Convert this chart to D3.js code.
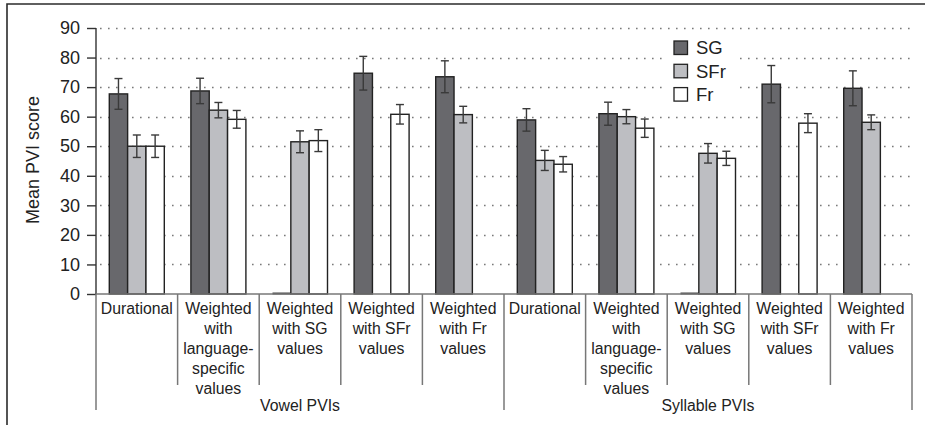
<!DOCTYPE html>
<html>
<head>
<meta charset="utf-8">
<script src="https://cdn.jsdelivr.net/npm/d3@7"></script>
<style>
  html, body { margin: 0; padding: 0; background: #fff; }
  svg { display: block; font-family: "Liberation Sans", Arial, Helvetica, sans-serif; }
</style>
</head>
<body>
<svg id="chart" width="925" height="425"></svg>
<script>
// PVI measures (one entry per category), split into vowel and syllable groups
const categoryLabels = [
  ["Durational"],
  ["Weighted", "with", "language-", "specific", "values"],
  ["Weighted", "with SG", "values"],
  ["Weighted", "with SFr", "values"],
  ["Weighted", "with Fr", "values"],
  ["Durational"],
  ["Weighted", "with", "language-", "specific", "values"],
  ["Weighted", "with SG", "values"],
  ["Weighted", "with SFr", "values"],
  ["Weighted", "with Fr", "values"]
];
const groupLabels = ["Vowel PVIs", "Syllable PVIs"];
const groupSize = 5;
const seriesNames = ["SG", "SFr", "Fr"];

// Mean PVI scores per speaker group
const sgValues  = [67.7, 68.7, 0, 74.7, 73.5, 58.9, 61.0, 0, 71.0, 69.6];
const sfrValues = [50.0, 62.2, 51.5, 0, 60.7, 45.2, 60.0, 47.6, 0, 58.1];
const frValues  = [50.0, 59.1, 51.9, 60.8, 0, 43.9, 56.1, 45.9, 57.8, 0];

// Half-length of the error bars
const sgErrors  = [5.2, 4.3, 0, 5.7, 5.4, 3.8, 3.9, 0, 6.3, 5.9];
const sfrErrors = [3.8, 2.6, 3.7, 0, 2.8, 3.4, 2.4, 3.3, 0, 2.5];
const frErrors  = [3.8, 3.0, 3.7, 3.3, 0, 2.6, 3.1, 2.4, 3.2, 0];

const yTicks = [0, 10, 20, 30, 40, 50, 60, 70, 80, 90];
const yLabel = "Mean PVI score";

const seriesValues = [sgValues, sfrValues, frValues];
const seriesErrors = [sgErrors, sfrErrors, frErrors];
const seriesFill = ["#68686c", "#bdbec2", "#ffffff"];

const svg = d3.select("#chart");

const plotLeft = 96, plotRight = 912, plotTop = 28, plotBottom = 294;

const x = d3.scaleBand()
  .domain(d3.range(categoryLabels.length))
  .range([plotLeft, plotRight])
  .paddingInner(0).paddingOuter(0);

const xs = d3.scaleBand()
  .domain(seriesNames)
  .range([13.3, x.bandwidth() - 13.3])
  .padding(0);

const y = d3.scaleLinear().domain([0, 90]).range([plotBottom, plotTop]);

// outer frame (top and left edges)
svg.append("path")
  .attr("d", `M7,425 L7,4 L925,4`)
  .attr("fill", "none")
  .attr("stroke", "#2b2b2b")
  .attr("stroke-width", 1.6);

// dotted gridlines
svg.append("g")
  .selectAll("line")
  .data(yTicks.filter(d => d > 0))
  .join("line")
  .attr("x1", plotLeft + 4)
  .attr("x2", plotRight)
  .attr("y1", d => Math.round(y(d)) + 0.5)
  .attr("y2", d => Math.round(y(d)) + 0.5)
  .attr("stroke", "#7a7a7a")
  .attr("stroke-width", 1.6)
  .attr("stroke-dasharray", "1.6 6.4");

// legend background hides the gridlines behind it
svg.append("rect")
  .attr("x", 665).attr("y", 33)
  .attr("width", 72).attr("height", 74)
  .attr("fill", "#fff");

// bars
const barG = svg.append("g");
seriesNames.forEach((name, si) => {
  const vals = seriesValues[si];
  const g = barG.append("g");
  g.selectAll("rect")
    .data(vals.map((v, i) => ({ v, i })).filter(d => d.v > 0))
    .join("rect")
    .attr("x", d => x(d.i) + xs(name))
    .attr("y", d => y(d.v))
    .attr("width", xs.bandwidth())
    .attr("height", d => y(0) - y(d.v))
    .attr("fill", seriesFill[si])
    .attr("stroke", "#222")
    .attr("stroke-width", 1.4);
  // zero-valued bars collapse to a dark line on the baseline
  g.selectAll("line")
    .data(vals.map((v, i) => ({ v, i })).filter(d => d.v === 0 && si === 0))
    .join("line")
    .attr("x1", d => x(d.i) + xs(name))
    .attr("x2", d => x(d.i) + xs(name) + xs.bandwidth())
    .attr("y1", y(0) - 0.5)
    .attr("y2", y(0) - 0.5)
    .attr("stroke", "#444")
    .attr("stroke-width", 2);
});

// error bars
const errG = svg.append("g").attr("stroke", "#3a3a3a").attr("stroke-width", 1.4);
seriesNames.forEach((name, si) => {
  const vals = seriesValues[si], errs = seriesErrors[si];
  vals.forEach((v, i) => {
    if (v <= 0) return;
    const cx = x(i) + xs(name) + xs.bandwidth() / 2;
    const top = y(v + errs[i]), bot = y(v - errs[i]);
    errG.append("line").attr("x1", cx).attr("x2", cx).attr("y1", top).attr("y2", bot);
    errG.append("line").attr("x1", cx - 4).attr("x2", cx + 4).attr("y1", top).attr("y2", top);
    errG.append("line").attr("x1", cx - 4).attr("x2", cx + 4).attr("y1", bot).attr("y2", bot);
  });
});

// y axis
const yAxis = svg.append("g")
  .attr("transform", `translate(${plotLeft},0)`)
  .call(d3.axisLeft(y).tickValues(yTicks).tickSize(9).tickPadding(7).tickFormat(d3.format("d")));
yAxis.select(".domain").attr("stroke", "#333").attr("stroke-width", 1.4).attr("d", `M0,${plotBottom}V${plotTop}`);
yAxis.selectAll(".tick line").attr("stroke", "#333").attr("stroke-width", 1.4);
yAxis.selectAll(".tick text")
  .attr("font-size", 18)
  .attr("fill", "#222")
  .attr("font-family", "'Liberation Sans', Arial, sans-serif");

svg.append("text")
  .attr("transform", `translate(39,160) rotate(-90)`)
  .attr("text-anchor", "middle")
  .attr("font-size", 18)
  .attr("fill", "#222")
  .text(yLabel);

// category baseline
svg.append("line")
  .attr("x1", plotLeft).attr("x2", plotRight)
  .attr("y1", y(0)).attr("y2", y(0))
  .attr("stroke", "#777").attr("stroke-width", 1.5);

// separators between categories and groups
const sepG = svg.append("g").attr("stroke", "#777").attr("stroke-width", 1.5);
d3.range(categoryLabels.length + 1).forEach(i => {
  const xx = i < categoryLabels.length ? x(i) : plotRight;
  const isGroupEdge = i % groupSize === 0;
  sepG.append("line")
    .attr("x1", xx).attr("x2", xx)
    .attr("y1", y(0)).attr("y2", isGroupEdge ? 410 : 385);
});

// category labels
const labG = svg.append("g").attr("font-size", 15.8).attr("fill", "#222").attr("text-anchor", "middle");
categoryLabels.forEach((lines, i) => {
  const t = labG.append("text")
    .attr("x", x(i) + x.bandwidth() / 2)
    .attr("y", 314);
  lines.forEach((ln, j) => {
    t.append("tspan")
      .attr("x", x(i) + x.bandwidth() / 2)
      .attr("y", 314 + j * 20)
      .text(ln);
  });
});

// group labels
groupLabels.forEach((g, gi) => {
  const x0 = x(gi * groupSize);
  const x1 = gi * groupSize + groupSize < categoryLabels.length ? x(gi * groupSize + groupSize) : plotRight;
  svg.append("text")
    .attr("x", (x0 + x1) / 2)
    .attr("y", 411)
    .attr("text-anchor", "middle")
    .attr("font-size", 15.8)
    .attr("fill", "#222")
    .text(g);
});

// legend
const legend = svg.append("g").attr("transform", "translate(674,41)");
seriesNames.forEach((name, si) => {
  const row = legend.append("g").attr("transform", `translate(0,${si * 23.3})`);
  row.append("rect")
    .attr("width", 13.5).attr("height", 13.5)
    .attr("fill", seriesFill[si])
    .attr("stroke", "#222").attr("stroke-width", 1.3);
  row.append("text")
    .attr("x", 22).attr("y", 13.4)
    .attr("font-size", 18.5)
    .attr("fill", "#222")
    .text(name);
});
</script>
</body>
</html>
